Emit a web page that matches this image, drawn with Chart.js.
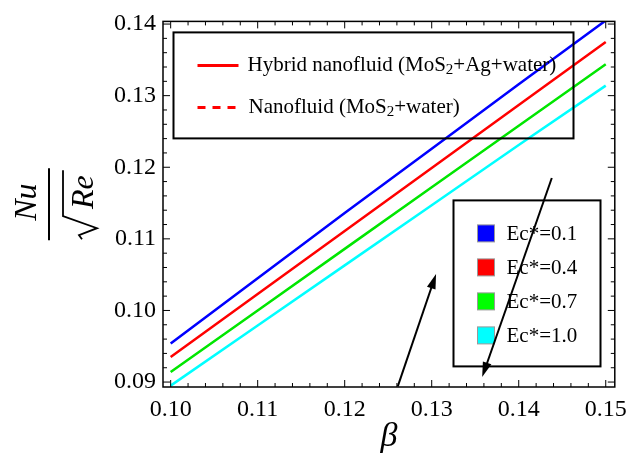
<!DOCTYPE html>
<html>
<head>
<meta charset="utf-8">
<script src="https://cdn.jsdelivr.net/npm/chart.js@4.4.0/dist/chart.umd.min.js"></script>
<style>
body{margin:0;background:#fff;}
canvas{display:block;}
</style>
</head>
<body>
<canvas id="c" width="635" height="461"></canvas>
<script>
// beta values and Nu/sqrt(Re) for each Ec*
var beta = [0.10, 0.11, 0.12, 0.13, 0.14, 0.15];
var ec01 = [0.0954, 0.1045, 0.1136, 0.1226, 0.1316, 0.1405];
var ec04 = [0.0935, 0.1023, 0.1111, 0.1199, 0.1287, 0.1375];
var ec07 = [0.0914, 0.1000, 0.1086, 0.1172, 0.1258, 0.1344];
var ec10 = [0.0895, 0.0979, 0.1063, 0.1147, 0.1231, 0.1314];
var ecLabels = ["Ec*=0.1", "Ec*=0.4", "Ec*=0.7", "Ec*=1.0"];
var colors = ["#0000ff", "#ff0000", "#00e600", "#00ffff"];
var boxColors = ["#0000ff", "#ff0000", "#00ff00", "#00ffff"];
// arrows, in data units [x1,y1,x2,y2]
var arrowUp = [0.1261, 0.0894, 0.1305, 0.1051];
var arrowDown = [0.1438, 0.1185, 0.1358, 0.0907];

var serif = '"Liberation Serif","Times New Roman",serif';

function pts(ys){
	return beta.map(function(b, i){ return {x: b, y: ys[i]}; });
}

function subText(ctx, parts, x, y, size){
	parts.forEach(function(p){
		ctx.font = (p[1] ? Math.round(size*0.7) : size) + 'px ' + serif;
		ctx.fillText(p[0], x, y + (p[1] ? size*0.22 : 0));
		x += ctx.measureText(p[0]).width;
	});
}

function arrow(ctx, x1, y1, x2, y2){
	var a = Math.atan2(y2-y1, x2-x1), h = 15, w = 4.5;
	var c = Math.cos(a), s = Math.sin(a);
	ctx.beginPath();
	ctx.moveTo(x1, y1);
	ctx.lineTo(x2 - c*h*0.8, y2 - s*h*0.8);
	ctx.stroke();
	ctx.beginPath();
	ctx.moveTo(x2, y2);
	ctx.lineTo(x2 - h*c + w*s, y2 - h*s - w*c);
	ctx.lineTo(x2 - h*c - w*s, y2 - h*s + w*c);
	ctx.closePath();
	ctx.fill();
}

var extras = {
	id: 'extras',
	afterDraw: function(chart){
		var ctx = chart.ctx, a = chart.chartArea;
		var sx = chart.scales.x, sy = chart.scales.y;
		var i, v, p, len;
		ctx.save();
		ctx.strokeStyle = '#000';
		ctx.fillStyle = '#000';

		// frame + inward ticks on all sides
		ctx.lineWidth = 1.5;
		ctx.strokeRect(a.left, a.top, a.right - a.left, a.bottom - a.top);
		ctx.lineWidth = 1;
		for(i = 0; i <= 25; i++){
			v = 0.10 + i*0.002;
			p = sx.getPixelForValue(v);
			len = (i % 5 == 0) ? 7 : 4;
			ctx.beginPath();
			ctx.moveTo(p, a.bottom); ctx.lineTo(p, a.bottom - len);
			ctx.moveTo(p, a.top); ctx.lineTo(p, a.top + len);
			ctx.stroke();
		}
		for(i = 0; i <= 25; i++){
			v = 0.09 + i*0.002;
			p = sy.getPixelForValue(v);
			len = (i % 5 == 0) ? 7 : 4;
			ctx.beginPath();
			ctx.moveTo(a.left, p); ctx.lineTo(a.left + len, p);
			ctx.moveTo(a.right, p); ctx.lineTo(a.right - len, p);
			ctx.stroke();
		}

		// y title: Nu / sqrt(Re)
		ctx.save();
		ctx.translate(a.left - 114, (a.top + a.bottom)/2);
		ctx.rotate(-Math.PI/2);
		ctx.lineWidth = 2;
		ctx.beginPath(); ctx.moveTo(-36, 0); ctx.lineTo(36, 0); ctx.stroke();
		ctx.font = 'italic 32px ' + serif;
		ctx.textAlign = 'center';
		ctx.textBaseline = 'alphabetic';
		ctx.fillText('Nu', 2, -13);
		ctx.fillText('Re', 12, 44);
		ctx.lineWidth = 1.8;
		ctx.beginPath();
		ctx.moveTo(-35, 33);
		ctx.lineTo(-31, 30);
		ctx.lineTo(-24, 48);
		ctx.lineTo(-12, 14);
		ctx.lineTo(34, 14);
		ctx.stroke();
		ctx.restore();

		// legend 1
		var L = a.left + 10.5, T = a.top + 11;
		ctx.lineWidth = 2;
		ctx.strokeRect(L, T, 400, 106);
		ctx.strokeStyle = '#ff0000';
		ctx.lineWidth = 3;
		ctx.beginPath(); ctx.moveTo(L + 24, T + 33); ctx.lineTo(L + 65, T + 33); ctx.stroke();
		ctx.setLineDash([8, 7]);
		ctx.beginPath(); ctx.moveTo(L + 24, T + 75); ctx.lineTo(L + 65, T + 75); ctx.stroke();
		ctx.setLineDash([]);
		ctx.textAlign = 'left';
		ctx.textBaseline = 'middle';
		subText(ctx, [['Hybrid nanofluid (MoS', 0], ['2', 1], ['+Ag+water)', 0]], L + 74, T + 33, 21);
		subText(ctx, [['Nanofluid (MoS', 0], ['2', 1], ['+water)', 0]], L + 75, T + 75, 21);

		// legend 2
		var L2 = a.left + 290.5, T2 = a.top + 179;
		ctx.strokeStyle = '#000';
		ctx.lineWidth = 2;
		ctx.strokeRect(L2, T2, 147, 166);
		ctx.lineWidth = 1;
		ctx.font = '21px ' + serif;
		for(i = 0; i < ecLabels.length; i++){
			var cy = T2 + 33 + i*34;
			ctx.fillStyle = boxColors[i];
			ctx.fillRect(L2 + 24, cy - 8.5, 17, 17);
			ctx.strokeStyle = '#999';
			ctx.strokeRect(L2 + 24, cy - 8.5, 17, 17);
			ctx.fillStyle = '#000';
			ctx.fillText(ecLabels[i], L2 + 53, cy + 1);
		}

		// arrows
		ctx.strokeStyle = '#000';
		ctx.fillStyle = '#000';
		ctx.lineWidth = 2;
		[arrowUp, arrowDown].forEach(function(r){
			arrow(ctx, sx.getPixelForValue(r[0]), sy.getPixelForValue(r[1]),
				sx.getPixelForValue(r[2]), sy.getPixelForValue(r[3]));
		});
		ctx.restore();
	}
};

var series = [ec01, ec04, ec07, ec10];
var datasets = series.map(function(s, i){
	return {
		label: ecLabels[i],
		data: pts(s),
		borderColor: colors[i],
		borderWidth: 2.5,
		pointRadius: 0,
		tension: 0,
		fill: false
	};
});

var tickFont = {family: serif, size: 24};

new Chart(document.getElementById('c'), {
	type: 'line',
	data: {datasets: datasets},
	options: {
		responsive: false,
		animation: false,
		devicePixelRatio: 1,
		layout: {padding: {top: 19, right: 13, left: 0, bottom: 0}},
		plugins: {legend: {display: false}, tooltip: {enabled: false}},
		scales: {
			x: {
				type: 'linear',
				min: 0.09912, max: 0.15104,
				grid: {display: false, drawTicks: false},
				border: {display: false},
				ticks: {
					stepSize: 0.01, includeBounds: false, padding: 8,
					color: '#000', font: tickFont, maxRotation: 0,
					callback: function(v){ return v.toFixed(2); }
				},
				title: {display: true, text: 'β', color: '#000', padding: {top: 4, bottom: 4},
					font: {family: serif, size: 34, style: 'italic'}},
				afterFit: function(s){ s.height = 74; }
			},
			y: {
				min: 0.08931, max: 0.14037,
				grid: {display: false, drawTicks: false},
				border: {display: false},
				ticks: {
					stepSize: 0.01, includeBounds: false, padding: 7,
					color: '#000', font: tickFont,
					callback: function(v){ return v.toFixed(2); }
				},
				afterFit: function(s){ s.width = 163; }
			}
		}
	},
	plugins: [extras]
});
</script>
</body>
</html>
